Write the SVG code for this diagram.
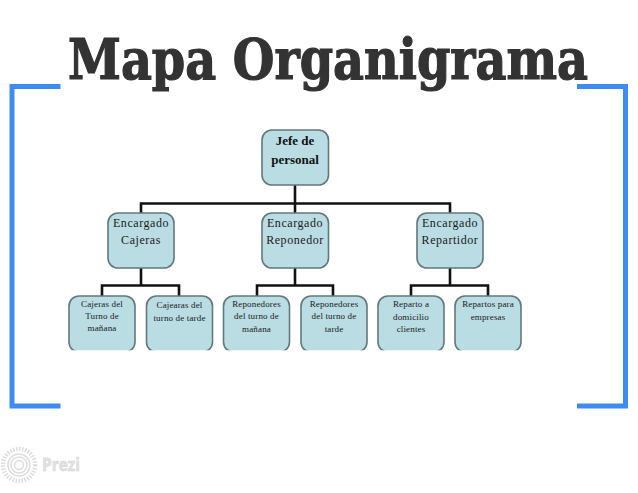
<svg xmlns="http://www.w3.org/2000/svg" width="638" height="493" viewBox="0 0 638 493">
<style>
.bg{fill:#fff}
.title{font-family:"DejaVu Serif Condensed","DejaVu Serif","Liberation Serif",serif;font-stretch:condensed;font-weight:700;font-size:56px;fill:#333;stroke:#333;stroke-width:1.2px}
.bracket{fill:none;stroke:#3f8bf0;stroke-width:5}
.box{fill:#b9dde3;stroke:#62787c;stroke-width:1.6}
.conn{fill:none;stroke:#111;stroke-width:2.6}
.t{font-family:"Liberation Serif",serif;fill:#1a1a1a;text-anchor:middle}
.l1{font-size:13px;font-weight:700;fill:#111}
.l2{font-size:12px;letter-spacing:.55px}
.l3{font-size:9px;letter-spacing:.15px}
.logo{fill:none;stroke:#ddd}
.prezi{font-family:"Open Sans",sans-serif;font-weight:700;font-size:18px;fill:#e2e2e2;stroke:#d2d2d2;stroke-width:.5px}
</style>
<defs><clipPath id="cut"><rect x="60" y="290" width="470" height="60.300"/></clipPath></defs>
<rect class="bg" width="638" height="493"/>
<text class="title" x="68" y="79" textLength="520" lengthAdjust="spacingAndGlyphs">Mapa Organigrama</text>
<path class="bracket" d="M60.500 86.500H12V406H60.500"/>
<path class="bracket" d="M577 86.500H625.500V406H577"/>
<g id="connectors">
<path class="conn" d="M295 185V213M141 213V203.500H450V213"/>
<path class="conn" d="M141 268V285.500M102 296V285.500H179V296"/>
<path class="conn" d="M295 268V285.500M257 296V285.500H333V296"/>
<path class="conn" d="M450 268V285.500M411 296V285.500H488V296"/>
</g>
<g id="jefe"><rect class="box" x="262" y="130" width="66.500" height="55" rx="10"/><text class="t l1" x="295" y="145">Jefe de</text><text class="t l1" x="295" y="164">personal</text></g>
<g id="enc-cajeras"><rect class="box" x="108" y="213" width="66" height="55" rx="10"/><text class="t l2" x="141" y="227">Encargado</text><text class="t l2" x="141" y="244">Cajeras</text></g>
<g id="enc-reponedor"><rect class="box" x="262" y="213" width="66.500" height="55" rx="10"/><text class="t l2" x="295" y="227">Encargado</text><text class="t l2" x="295" y="244">Reponedor</text></g>
<g id="enc-repartidor"><rect class="box" x="417" y="213" width="66" height="55" rx="10"/><text class="t l2" x="450" y="227">Encargado</text><text class="t l2" x="450" y="244">Repartidor</text></g>
<g id="cajeras-manana"><rect class="box" x="69" y="296" width="66" height="56" rx="10" clip-path="url(#cut)"/><text class="t l3" x="102" y="307">Cajeras del</text><text class="t l3" x="102" y="318.500">Turno de</text><text class="t l3" x="102" y="331">mañana</text></g>
<g id="cajeras-tarde"><rect class="box" x="146.500" y="296" width="66" height="56" rx="10" clip-path="url(#cut)"/><text class="t l3" x="179.500" y="308">Cajearas del</text><text class="t l3" x="179.500" y="320.500">turno de tarde</text></g>
<g id="repo-manana"><rect class="box" x="223.500" y="296" width="66" height="56" rx="10" clip-path="url(#cut)"/><text class="t l3" x="256.500" y="307">Reponedores</text><text class="t l3" x="256.500" y="318.500">del turno de</text><text class="t l3" x="256.500" y="332">mañana</text></g>
<g id="repo-tarde"><rect class="box" x="301" y="296" width="66" height="56" rx="10" clip-path="url(#cut)"/><text class="t l3" x="334" y="307">Reponedores</text><text class="t l3" x="334" y="318.500">del turno de</text><text class="t l3" x="334" y="332">tarde</text></g>
<g id="reparto-domicilio"><rect class="box" x="378" y="296" width="66" height="56" rx="10" clip-path="url(#cut)"/><text class="t l3" x="411" y="307">Reparto a</text><text class="t l3" x="411" y="319.500">domicilio</text><text class="t l3" x="411" y="332">clientes</text></g>
<g id="reparto-empresas"><rect class="box" x="455" y="296" width="66" height="56" rx="10" clip-path="url(#cut)"/><text class="t l3" x="488" y="307">Repartos para</text><text class="t l3" x="488" y="320">empresas</text></g>
<circle class="logo" cx="19" cy="465" r="16" stroke-width="4.500" stroke-dasharray="1.500 1.500"/>
<circle class="logo" cx="19" cy="465" r="11" stroke-width="1.500"/>
<circle class="logo" cx="19" cy="465" r="8" stroke-width="1.500"/>
<circle class="logo" cx="19" cy="465" r="4.500" stroke-width="1.500"/>
<text class="prezi" x="42" y="471" textLength="38" lengthAdjust="spacingAndGlyphs">Prezi</text>
</svg>
